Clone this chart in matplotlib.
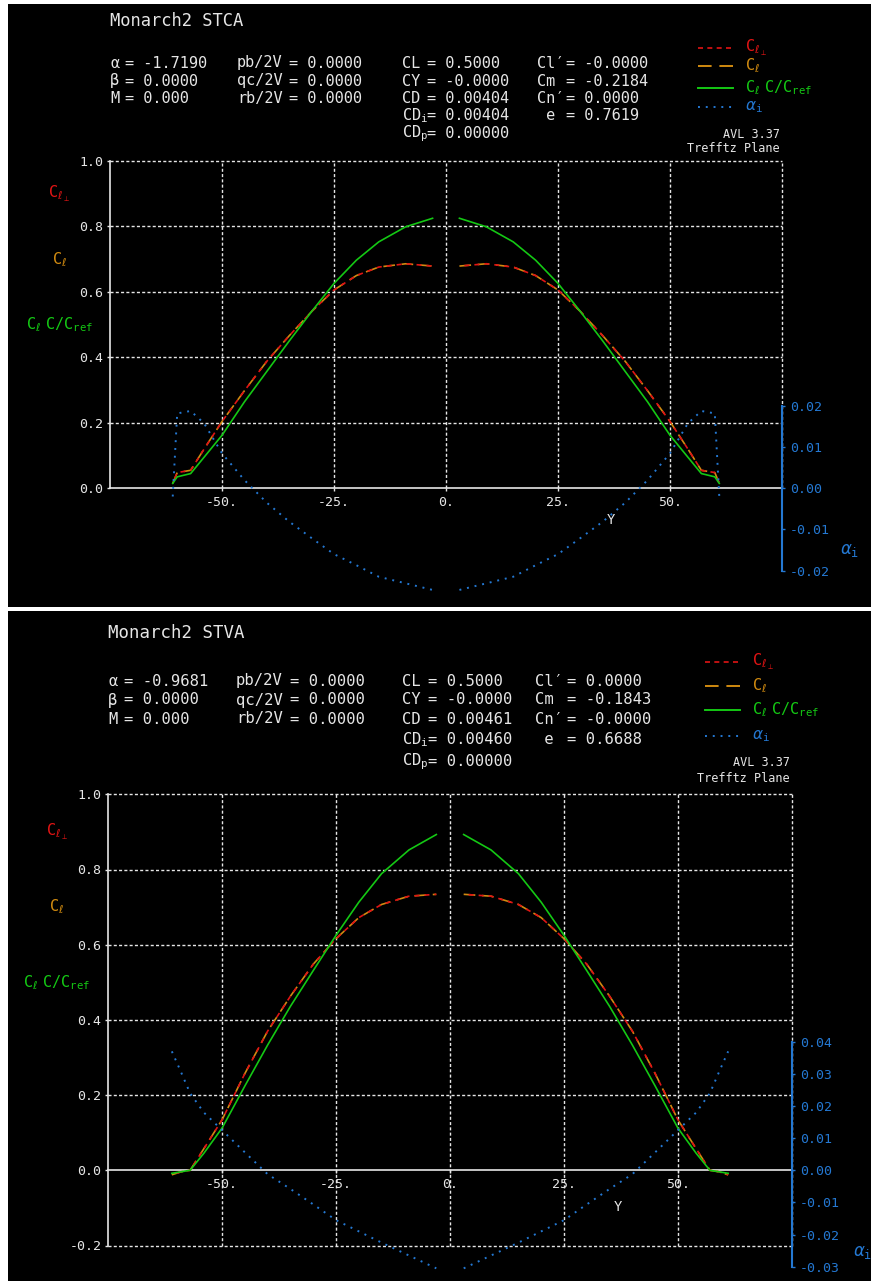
import numpy as np
import matplotlib
matplotlib.use("Agg")
import matplotlib.pyplot as plt
import matplotlib.transforms as mtransforms
from matplotlib.lines import Line2D
from matplotlib.patches import Rectangle

plt.rcParams["font.family"] = ["DejaVu Sans Mono", "DejaVu Sans"]
plt.rcParams["mathtext.fontset"] = "dejavusans"

W, H = 871, 1281

# ---------------------------------------------------------------- data
# spanwise stations Y (NaN = fuselage gap between the two wing halves)
y_stca = np.array([-61, -60, -57, -54, -50, -45, -40, -35, -30, -25, -20, -15, -9, -3, np.nan,
                   3, 9, 15, 20, 25, 30, 35, 40, 45, 50, 54, 57, 60, 61])
cl_perp_stca = np.array([0.015, 0.048, 0.055, 0.120, 0.204, 0.298, 0.388, 0.466, 0.540, 0.606, 0.650, 0.676, 0.686, 0.679, np.nan,
                         0.679, 0.686, 0.676, 0.650, 0.606, 0.540, 0.466, 0.388, 0.298, 0.204, 0.120, 0.055, 0.048, 0.015])
cl_stca = np.array([0.015, 0.048, 0.055, 0.120, 0.204, 0.298, 0.388, 0.466, 0.540, 0.606, 0.650, 0.676, 0.686, 0.679, np.nan,
                    0.679, 0.686, 0.676, 0.650, 0.606, 0.540, 0.466, 0.388, 0.298, 0.204, 0.120, 0.055, 0.048, 0.015])
clc_stca = np.array([0.015, 0.035, 0.045, 0.095, 0.162, 0.264, 0.357, 0.450, 0.540, 0.626, 0.697, 0.753, 0.799, 0.825, np.nan,
                     0.825, 0.799, 0.753, 0.697, 0.626, 0.540, 0.450, 0.357, 0.264, 0.162, 0.095, 0.045, 0.035, 0.015])
ai_stca = np.array([-0.0020, 0.0182, 0.0188, 0.0158, 0.0085, 0.0020, -0.0035, -0.0081, -0.0121, -0.0160, -0.0187, -0.0215, -0.0231, -0.0247, np.nan,
                    -0.0247, -0.0231, -0.0215, -0.0187, -0.0160, -0.0121, -0.0081, -0.0035, 0.0020, 0.0085, 0.0158, 0.0188, 0.0182, -0.0020])

y_stva = np.array([-61, -59, -57, -54, -50, -45, -40, -35, -30, -25, -20, -15, -9, -3, np.nan,
                   3, 9, 15, 20, 25, 30, 35, 40, 45, 50, 54, 57, 59, 61])
cl_perp_stva = np.array([-0.012, -0.004, 0.000, 0.057, 0.134, 0.257, 0.370, 0.463, 0.548, 0.616, 0.672, 0.707, 0.729, 0.734, np.nan,
                         0.734, 0.729, 0.707, 0.672, 0.616, 0.548, 0.463, 0.370, 0.257, 0.134, 0.057, 0.000, -0.004, -0.012])
cl_stva = np.array([-0.012, -0.004, 0.000, 0.057, 0.134, 0.257, 0.370, 0.463, 0.548, 0.616, 0.672, 0.707, 0.729, 0.734, np.nan,
                    0.734, 0.729, 0.707, 0.672, 0.616, 0.548, 0.463, 0.370, 0.257, 0.134, 0.057, 0.000, -0.004, -0.012])
clc_stva = np.array([-0.008, -0.004, 0.000, 0.045, 0.112, 0.224, 0.333, 0.436, 0.531, 0.625, 0.713, 0.789, 0.852, 0.893, np.nan,
                     0.893, 0.852, 0.789, 0.713, 0.625, 0.531, 0.436, 0.333, 0.224, 0.112, 0.045, 0.000, -0.004, -0.008])
ai_stva = np.array([0.0370, 0.0306, 0.0240, 0.0180, 0.0125, 0.0056, -0.0012, -0.0058, -0.0106, -0.0155, -0.0190, -0.0225, -0.0265, -0.0305, np.nan,
                    -0.0305, -0.0265, -0.0225, -0.0190, -0.0155, -0.0106, -0.0058, -0.0012, 0.0056, 0.0125, 0.0180, 0.0240, 0.0306, 0.0370])

x_ticks = [-50, -25, 0, 25, 50]
x_ticklabels = ["-50.", "-25.", "0.", "25.", "50."]

# header tables
col1_names = ["α", "β", "M"]
col2_names = ["pb/2V", "qc/2V", "rb/2V"]
col3_names = ["CL", "CY", "CD", r"CD$_\mathregular{i}$", r"CD$_\mathregular{p}$"]
col4_names = ["Cl′", "Cm", "Cn′", " e"]

stca_col1 = ["-1.7190", "0.0000", "0.000"]
stca_col2 = ["0.0000", "0.0000", "0.0000"]
stca_col3 = ["0.5000", "-0.0000", "0.00404", "0.00404", "0.00000"]
stca_col4 = ["-0.0000", "-0.2184", "0.0000", "0.7619"]

stva_col1 = ["-0.9681", "0.0000", "0.000"]
stva_col2 = ["0.0000", "0.0000", "0.0000"]
stva_col3 = ["0.5000", "-0.0000", "0.00461", "0.00460", "0.00000"]
stva_col4 = ["0.0000", "-0.1843", "-0.0000", "0.6688"]

# ---------------------------------------------------------------- style
RED = "#e01414"
ORANGE = "#d08a10"
GREEN = "#14c814"
BLUE = "#2478d2"
FG = "#e6e6e6"

lab_clp = r"$\mathregular{C}_{\ell_\perp}$"
lab_cl = r"$\mathregular{C}_{\ell}$"
lab_clc = r"$\mathregular{C}_{\ell}\ \mathregular{C/C}_{\mathregular{ref}}$"
lab_ai = r"$\alpha_\mathregular{i}$"

fig = plt.figure(figsize=(W / 100, H / 100), dpi=100, facecolor="white")
pix = mtransforms.Affine2D().scale(1 / W, -1 / H).translate(0, 1) + fig.transFigure


def make_axes(x_px, y_px, y_vals, box):
    left, right = x_px
    top_box, bot_box = box
    ax = fig.add_axes([left / W, 1 - bot_box / H, (right - left) / W, (bot_box - top_box) / H])
    s = (y_px[0] - y_px[1]) / (y_vals[1] - y_vals[0])
    ax.set_xlim(-75, 75)
    ax.set_ylim(y_vals[0] - (bot_box - y_px[0]) / s, y_vals[0] + (y_px[0] - top_box) / s)
    ax.patch.set_alpha(0)
    return ax


def draw_panel(panel, title, cols, hdr, ax_geom, y_ticks, ai_ticks, ai_scale, span, clp, cl, clc, ai,
               ai_label_pos, ylab_x):
    # black panel background, kept beneath the axes
    fig.patches.append(Rectangle((panel[0], panel[1]), panel[2] - panel[0], panel[3] - panel[1],
                                 transform=pix, facecolor="black", edgecolor="none", zorder=-5))
    fs = hdr["fs"]
    fig.text(hdr["title"][0], hdr["title"][1], title, transform=pix, color=FG, fontsize=fs + 1.3,
             va="center", ha="left")
    for (names, values, nx, ex) in cols:
        for i, (nm, val) in enumerate(zip(names, values)):
            yy = hdr["rows"][i]
            fig.text(nx, yy, nm, transform=pix, color=FG, fontsize=fs, va="center", ha="left")
            fig.text(ex, yy, "= " + val, transform=pix, color=FG, fontsize=fs, va="center", ha="left")

    ax = make_axes(*ax_geom)
    ymin_grid = y_ticks[0]
    # grid
    grid_kw = dict(color=FG, lw=1.0, linestyle=(0, (2.2, 1.6)), zorder=1, clip_on=False)
    ax.vlines(x_ticks + [75], ymin_grid, 1.0, **grid_kw)
    ax.hlines([t for t in y_ticks if t != 0], -75, 75, **grid_kw)

    for sp in ["top", "right"]:
        ax.spines[sp].set_visible(False)
    ax.spines["left"].set_bounds(ymin_grid, 1.0)
    ax.spines["left"].set_color(FG)
    ax.spines["left"].set_linewidth(1.2)
    ax.spines["bottom"].set_position(("data", 0.0))
    ax.spines["bottom"].set_bounds(-75, 75)
    ax.spines["bottom"].set_color(FG)
    ax.spines["bottom"].set_linewidth(1.2)

    ax.set_xticks(x_ticks, x_ticklabels)
    ax.set_yticks(y_ticks, [f"{t:.1f}" for t in y_ticks])
    ax.tick_params(colors=FG, labelsize=9.5, length=2.2, width=1)
    ax.tick_params(axis="x", pad=3.5)
    ax.tick_params(axis="y", pad=2.5)

    ax.set_xlabel("Y", color=FG, fontsize=10)
    ax.xaxis.set_label_coords(36.8, ai_label_pos[2], transform=ax.transData)

    # induced angle on its own scale
    ax2 = ax.twinx()
    lo, hi = ax.get_ylim()
    ax2.set_ylim(lo / ai_scale, hi / ai_scale)
    for sp in ["top", "left", "bottom"]:
        ax2.spines[sp].set_visible(False)
    ax2.spines["right"].set_bounds(ai_ticks[0], ai_ticks[-1])
    ax2.spines["right"].set_color(BLUE)
    ax2.spines["right"].set_linewidth(1.5)
    ax2.set_yticks(ai_ticks, [f"{t:.2f}" for t in ai_ticks])
    ax2.tick_params(colors=BLUE, labelsize=9.5, length=2.2, width=1, pad=3.5)
    ax2.patch.set_alpha(0)

    # curves
    ax.plot(span, cl, color=ORANGE, lw=1.2, linestyle=(0, (7, 4)), zorder=3)
    ax.plot(span, clp, color=RED, lw=1.2, linestyle=(3, (3, 3)), zorder=4)
    ax.plot(span, clc, color=GREEN, lw=1.2, zorder=5)
    ax2.plot(span, ai, color=BLUE, lw=1.4, linestyle=(0, (1, 3)), zorder=3)

    ax2.text(ai_label_pos[0], ai_label_pos[1], lab_ai, color=BLUE, fontsize=12,
             ha="center", va="center", clip_on=False)

    # left-hand quantity labels
    for lab, col, yv in [(lab_clp, RED, 0.9), (lab_cl, ORANGE, 0.7), (lab_clc, GREEN, 0.5)]:
        ax.text(ylab_x, yv, lab, color=col, fontsize=11, ha="center", va="center", clip_on=False)

    # legend
    lx0, lx1, ltx = hdr["leg_x"]
    styles = [(RED, (0, (3, 2.6)), 1.2, lab_clp), (ORANGE, (0, (7, 4)), 1.4, lab_cl),
              (GREEN, "-", 1.4, lab_clc), (BLUE, (0, (1, 3)), 1.4, lab_ai)]
    for (c, ls, lw, lab), yy in zip(styles, hdr["leg_y"]):
        fig.add_artist(Line2D([lx0, lx1], [yy, yy], transform=pix, color=c, linestyle=ls, lw=lw))
        fig.text(ltx, yy, lab, transform=pix, color=c, fontsize=11, va="center", ha="left")
    fig.text(hdr["avl"][0], hdr["avl"][1], "AVL 3.37", transform=pix, color=FG, fontsize=8.5,
             ha="right", va="center")
    fig.text(hdr["avl"][0], hdr["avl"][2], "Trefftz Plane", transform=pix, color=FG, fontsize=8.5,
             ha="right", va="center")


hdr_top = dict(fs=11.0, title=(110, 21), rows=[63, 81, 98.5, 116, 133.5],
               leg_x=(698, 733, 745), leg_y=[48, 66, 88, 107], avl=(780, 134, 149))
hdr_bot = dict(fs=11.2, title=(108, 633), rows=[681, 700, 719, 740, 762],
               leg_x=(705, 740, 752), leg_y=[662, 686, 710, 736], avl=(790, 762, 779))

draw_panel((8, 4, 871, 607), "Monarch2 STCA",
           [(col1_names, stca_col1, 110, 125), (col2_names, stca_col2, 237, 289),
            (col3_names, stca_col3, 402, 427), (col4_names, stca_col4, 537, 566)],
           hdr_top, ((110, 782), (488.3, 161), (0.0, 1.0), (150, 600)),
           [0.0, 0.2, 0.4, 0.6, 0.8, 1.0], [-0.02, -0.01, 0.0, 0.01, 0.02], 12.57,
           y_stca, cl_perp_stca, cl_stca, clc_stca, ai_stca, (90, -0.015, -0.075), -86.3)

draw_panel((8, 611, 871, 1281), "Monarch2 STVA",
           [(col1_names, stva_col1, 108, 124), (col2_names, stva_col2, 236, 290),
            (col3_names, stva_col3, 402, 428), (col4_names, stva_col4, 535, 567)],
           hdr_bot, ((108, 792), (1170.3, 794.3), (0.0, 1.0), (785, 1279)),
           [-0.2, 0.0, 0.2, 0.4, 0.6, 0.8, 1.0], [-0.03, -0.02, -0.01, 0.0, 0.01, 0.02, 0.03, 0.04], 8.55,
           y_stva, cl_perp_stva, cl_stva, clc_stva, ai_stva, (90.4, -0.0254, -0.079), -86.2)

fig.savefig("out.png", dpi=100, facecolor="white")
